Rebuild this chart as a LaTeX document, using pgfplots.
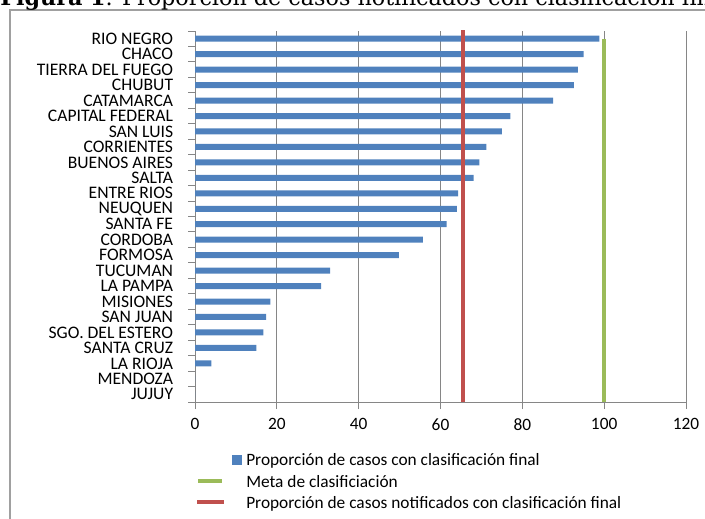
\documentclass[border=0pt]{standalone}
\usepackage{fontspec}
\setmainfont{Carlito}
\newfontfamily\titlefont{DejaVu Serif}
\usepackage{pgfplots}
\usepackage{pgfplotstable}
\pgfplotsset{compat=1.18}
\definecolor{barblue}{HTML}{4F81BD}
\definecolor{metagreen}{HTML}{9BBB59}
\definecolor{propred}{HTML}{C0504D}
\definecolor{gridgray}{HTML}{868686}
\definecolor{framegray}{HTML}{A0A0A0}

\pgfplotstableread{
idx val
0 98.8
1 95.0
2 93.6
3 92.6
4 87.5
5 77.1
6 75.0
7 71.2
8 69.5
9 68.1
10 64.3
11 64.0
12 61.5
13 55.7
14 49.8
15 33.0
16 30.8
17 18.4
18 17.4
19 16.7
20 15.0
21 4.0
22 0
23 0
}\provdata

\begin{document}
\begin{tikzpicture}
\draw[framegray, line width=0.8pt] (7.5pt,-7.5pt) rectangle (555pt,-420pt);
\node[anchor=base west, inner sep=0pt, font=\titlefont\fontsize{16.7}{18}\selectfont] at (0pt,-3.9pt) {\textbf{Figura 1}. Proporción de casos notificados con clasificación final};
\begin{axis}[
  at={(146.25pt,-301.5pt)}, anchor=south west,
  width=368.25pt, height=278.25pt, scale only axis,
  xmin=0, xmax=120, xtick={0,20,...,120},
  ymin=-0.5, ymax=23.5, y dir=reverse,
  ytick={0,...,23},
  yticklabels={RIO NEGRO,CHACO,TIERRA DEL FUEGO,CHUBUT,CATAMARCA,CAPITAL FEDERAL,SAN LUIS,CORRIENTES,BUENOS AIRES,SALTA,ENTRE RIOS,NEUQUEN,SANTA FE,CORDOBA,FORMOSA,TUCUMAN,LA PAMPA,MISIONES,SAN JUAN,SGO. DEL ESTERO,SANTA CRUZ,LA RIOJA,MENDOZA,JUJUY},
  minor y tick num=1,
  extra y ticks={-0.5,23.5}, extra y tick labels={},
  extra y tick style={major y tick style={draw=gridgray}},
  major y tick style={draw=none},
  minor y tick style={draw=gridgray, line width=0.75pt},
  major x tick style={draw=gridgray, line width=0.75pt},
  tick align=outside, major tick length=5.25pt, minor tick length=5.25pt,
  axis lines*=left, axis line style={gridgray, line width=0.75pt, -},
  xmajorgrids, grid style={gridgray, line width=0.75pt},
  /pgf/number format/assume math mode=true,
  yticklabel style={font=\fontsize{13.2}{14}\selectfont, xshift=-11pt, inner sep=0pt},
  xticklabel style={font=\fontsize{13}{14}\selectfont, yshift=-3.75pt},
  clip=false,
]
\addplot[xbar, bar width=4.5pt, fill=barblue, draw=none]
  table[x=val, y=idx] {\provdata};
\addplot[metagreen, line width=3pt]
  coordinates {(100,0) (100,23.5)};
\addplot[propred, line width=3pt]
  coordinates {(65.6,-0.55) (65.6,23.5)};
\end{axis}
% legend
\fill[barblue] (174pt,-341.25pt) rectangle (181.5pt,-348.75pt);
\node[anchor=base west, inner sep=0pt, font=\fontsize{13}{14}\selectfont] at (184.5pt,-348.75pt) {Proporción de casos con clasificación final};
\draw[metagreen, line width=3pt] (148.5pt,-360.75pt) -- (166.5pt,-360.75pt);
\node[anchor=base west, inner sep=0pt, font=\fontsize{13}{14}\selectfont] at (184.5pt,-365.25pt) {Meta de clasificiación};
\draw[propred, line width=3pt] (147.75pt,-376.5pt) -- (168pt,-376.5pt);
\node[anchor=base west, inner sep=0pt, font=\fontsize{13}{14}\selectfont] at (184.5pt,-381pt) {Proporción de casos notificados con clasificación final};
\pgfresetboundingbox
\useasboundingbox (0pt,0pt) rectangle (528.75pt,-388.5pt);
\end{tikzpicture}
\end{document}
